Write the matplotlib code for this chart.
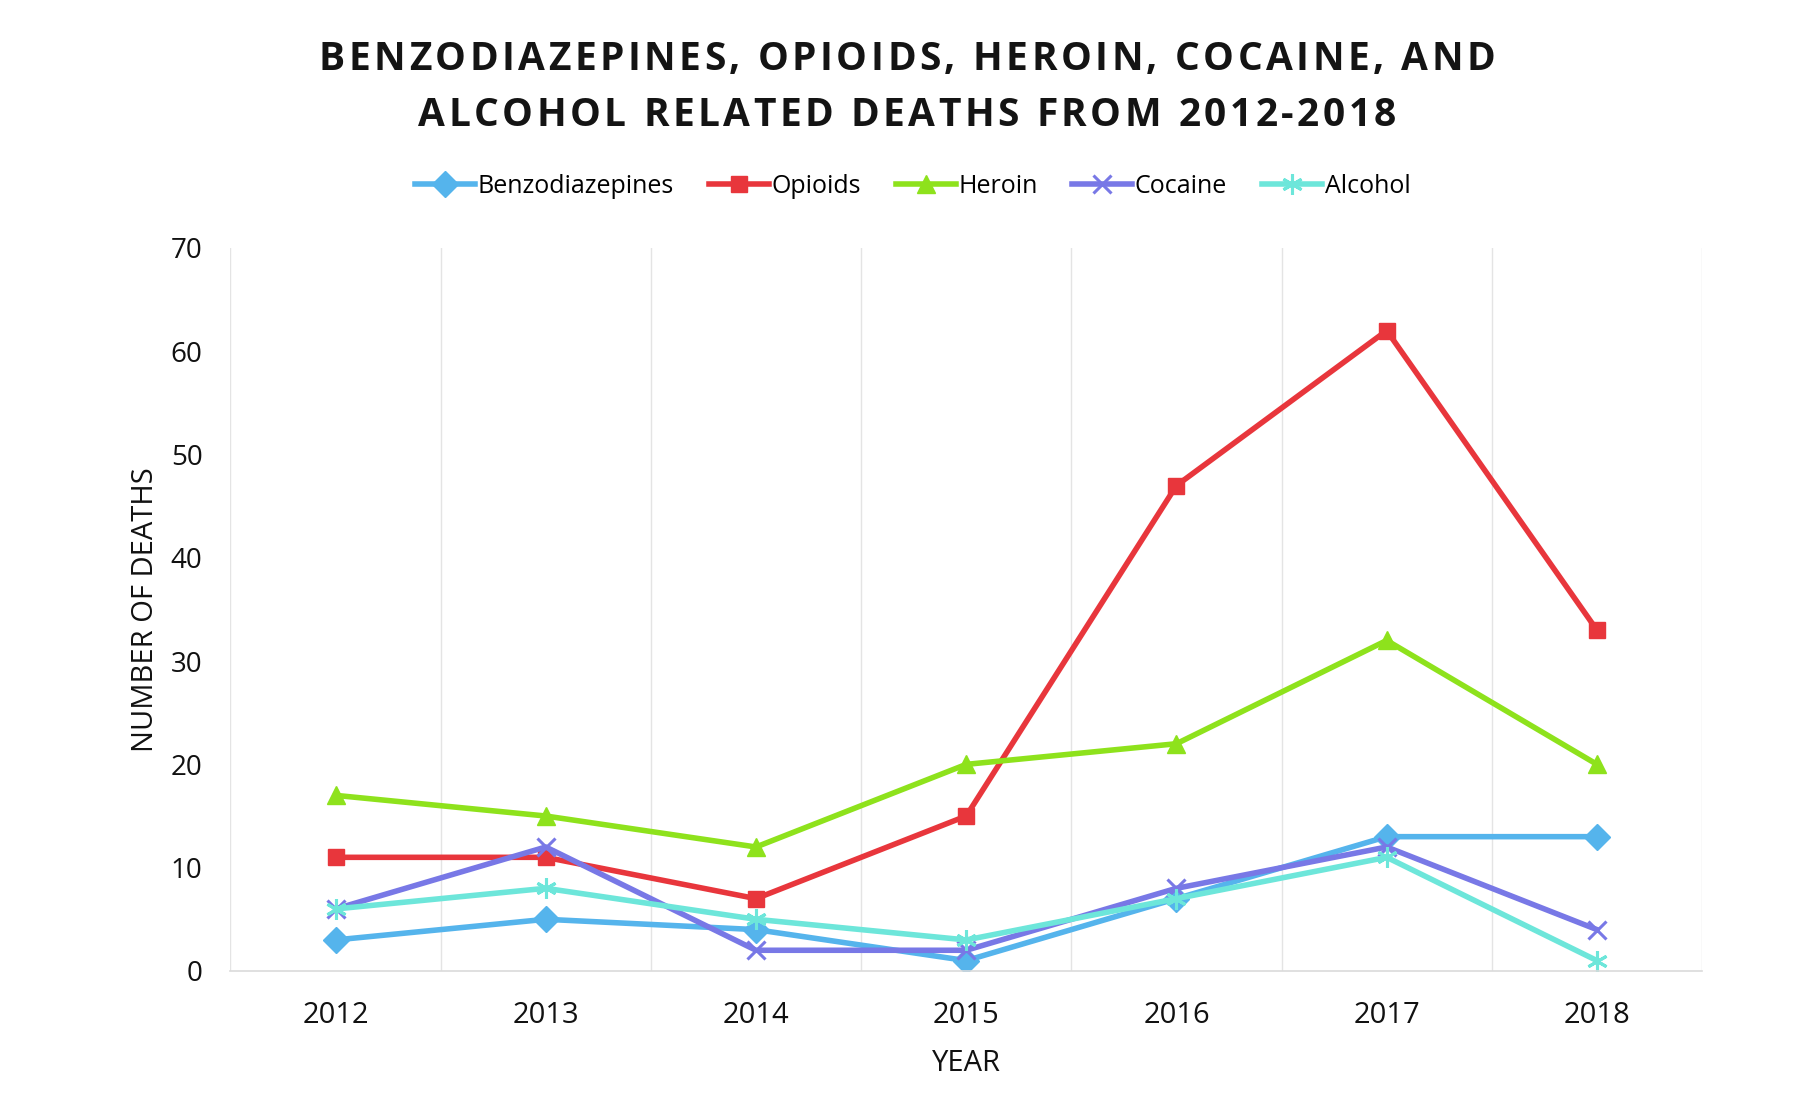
import numpy as np
import matplotlib
matplotlib.use('Agg')
import matplotlib.pyplot as plt
from matplotlib.font_manager import FontProperties, findfont, get_font
from matplotlib.transforms import IdentityTransform

plt.rcParams['font.family'] = ['Open Sans', 'DejaVu Sans']

years = ['2012', '2013', '2014', '2015', '2016', '2017', '2018']
benzodiazepines = [3, 5, 4, 1, 7, 13, 13]
opioids = [11, 11, 7, 15, 47, 62, 33]
heroin = [17, 15, 12, 20, 22, 32, 20]
cocaine = [6, 12, 2, 2, 8, 12, 4]
alcohol = [6, 8, 5, 3, 7, 11, 1]

title_lines = ['BENZODIAZEPINES, OPIOIDS, HEROIN, COCAINE, AND',
               'ALCOHOL RELATED DEATHS FROM 2012-2018']

series = [
    ('Benzodiazepines', benzodiazepines, '#55B4EC', 'D', 13),
    ('Opioids', opioids, '#E8363C', 's', 12),
    ('Heroin', heroin, '#8EE21C', '^', 13),
    ('Cocaine', cocaine, '#7878E6', 'x', 13),
    ('Alcohol', alcohol, '#6DE6DA', (6, 2, 0), 15),
]

DPI = 100


def spaced_text(fig, x_px, y_px, s, size, spacing, **kw):
    """Draw text centred at (x_px, y_px) with extra letter spacing (pixels)."""
    prop = FontProperties(family='Open Sans', weight=kw.get('fontweight', 'normal'),
                          size=size)
    font = get_font(findfont(prop))
    font.set_size(size, DPI)
    adv = [font.load_char(ord(c)).linearHoriAdvance / 65536 for c in s]
    total = sum(adv) + spacing * (len(s) - 1)
    xpos = x_px - total / 2
    for c, a in zip(s, adv):
        if c != ' ':
            fig.text(xpos, y_px, c, transform=IdentityTransform(), ha='left',
                     va='center', fontsize=size, **kw)
        xpos += a + spacing


fig = plt.figure(figsize=(18, 11.09), dpi=DPI)
ax = fig.add_axes([0.128, 0.1245, 0.8176, 0.6519])

x = np.arange(len(years))
for name, vals, color, marker, ms in series:
    ax.plot(x, vals, color=color, lw=4.0, marker=marker, markersize=ms,
            markeredgewidth=2.2 if marker in ('x', (6, 2, 0)) else 1,
            markeredgecolor=color, markerfacecolor=color, label=name)

ax.set_xlim(-0.5, len(years) - 0.5)
ax.set_ylim(0, 70)
ax.set_xticks(x)
ax.set_xticklabels(years)
ax.set_yticks(np.arange(0, 71, 10))
ax.set_xticks(np.arange(-0.5, len(years), 1.0), minor=True)
ax.grid(which='minor', axis='x', color='#E4E4E4', lw=1)
ax.tick_params(which='both', length=0)
ax.tick_params(axis='y', labelsize=20, pad=20, colors='#111111')
ax.tick_params(axis='x', labelsize=21, pad=22, colors='#111111')
for s in ('top', 'right', 'left'):
    ax.spines[s].set_visible(False)
ax.spines['bottom'].set_color('#DADADA')
ax.spines['bottom'].set_linewidth(1.2)

ax.set_xlabel('YEAR', fontsize=21, labelpad=13, color='#111111')
ax.set_ylabel('NUMBER OF DEATHS', fontsize=21, labelpad=8, color='#111111')

H = 11.09 * DPI
spaced_text(fig, 907, H - 59, title_lines[0], 28, 3.5,
            fontweight='bold', color='#141414')
spaced_text(fig, 907, H - 115, title_lines[1], 28, 3.5,
            fontweight='bold', color='#141414')

fig.legend(loc='center', bbox_to_anchor=(0.507, 0.832), ncol=5, frameon=False,
           fontsize=18, handlelength=2.4, handletextpad=0.1, columnspacing=1.4)

plt.savefig('out.png', dpi=DPI)
plt.close()
